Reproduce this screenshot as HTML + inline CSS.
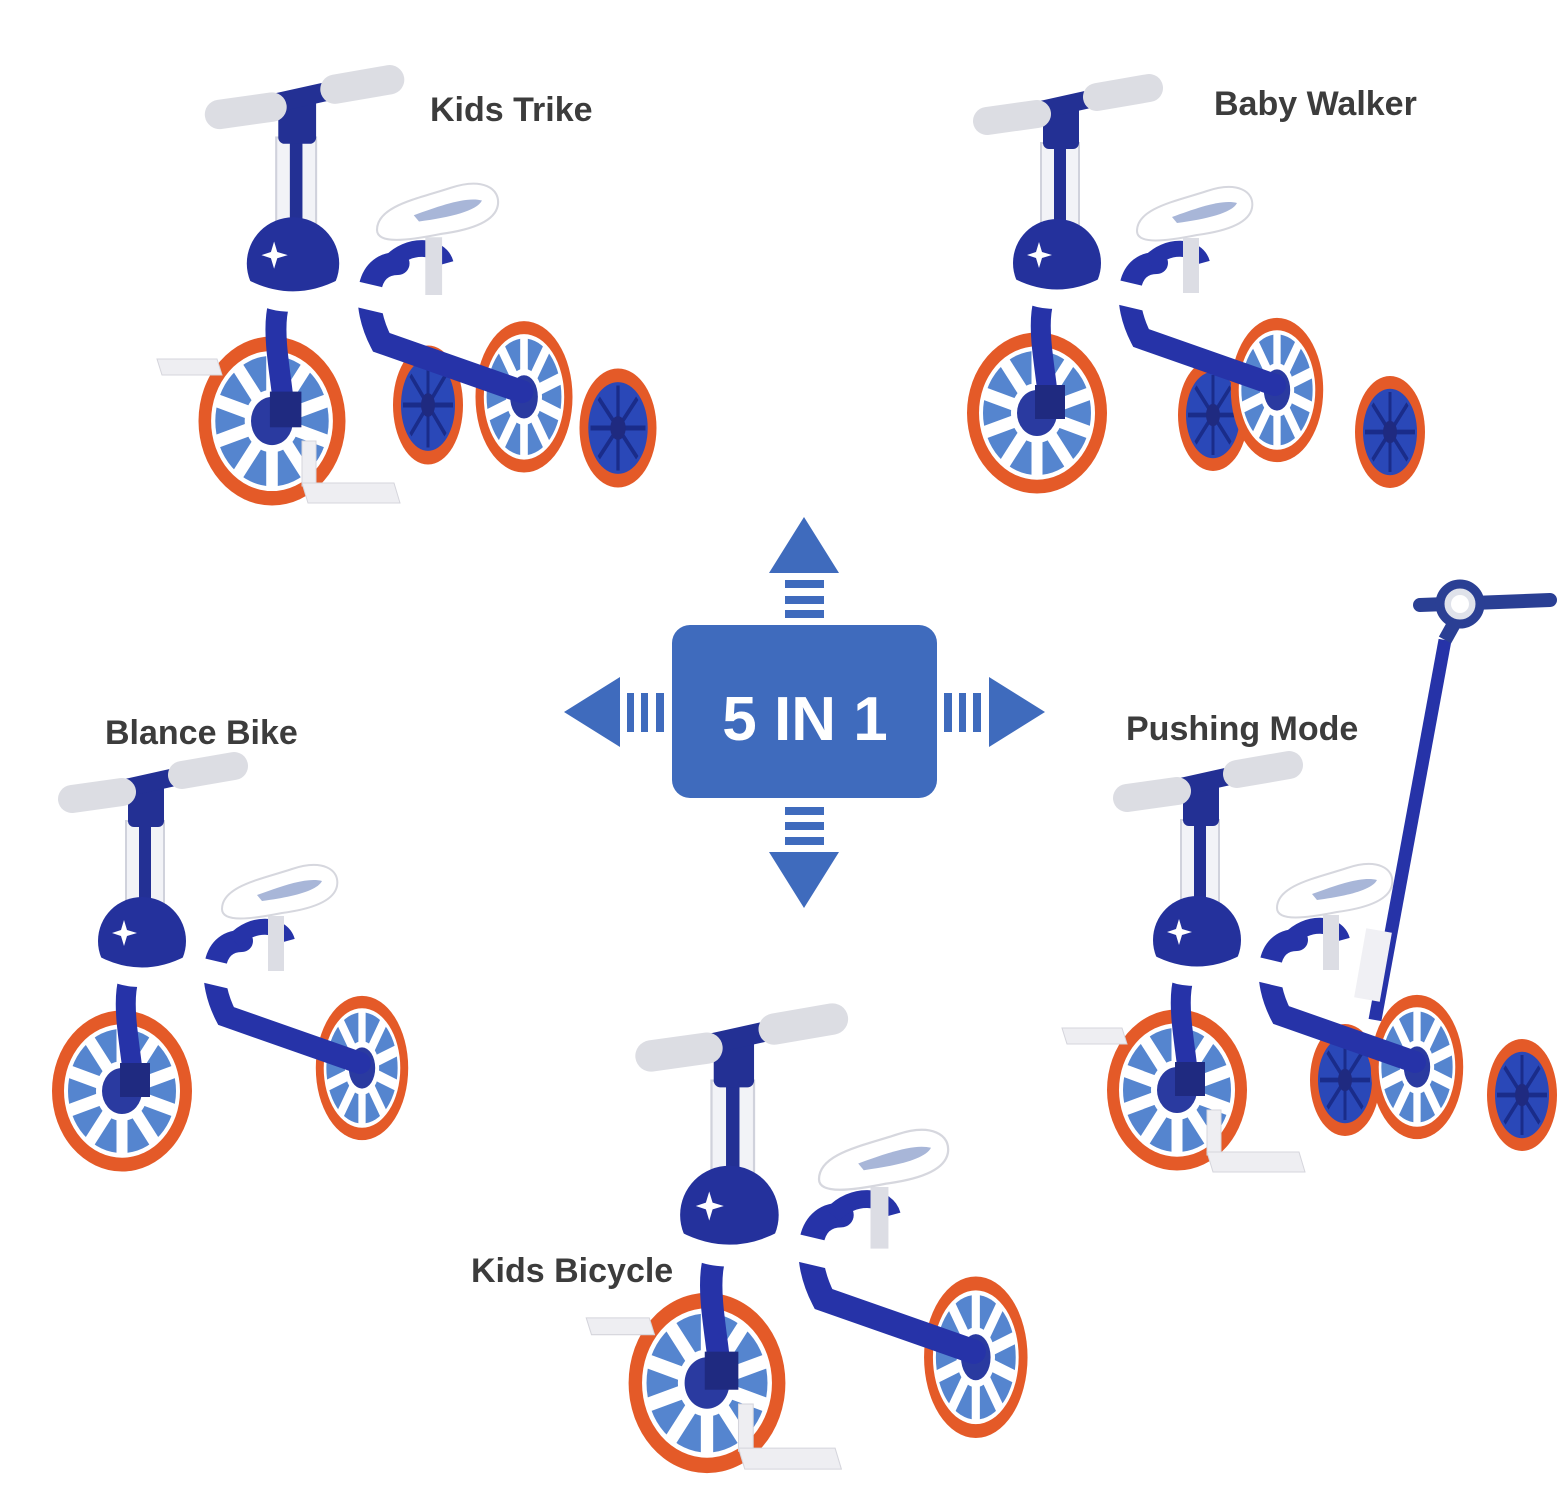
<!DOCTYPE html>
<html><head><meta charset="utf-8"><style>
html,body{margin:0;padding:0;background:#fff;}
svg{display:block;}
text{font-family:"Liberation Sans",sans-serif;font-weight:bold;fill:#3c3c3c;font-size:34px;}
</style></head><body>
<svg width="1566" height="1500" viewBox="0 0 1566 1500" xmlns="http://www.w3.org/2000/svg">
<defs>
  <g id="wh">
    <circle r="70" fill="#e45a28"/>
    <circle r="58" fill="#fff"/>
    <circle r="54" fill="#5585cf"/>
    <g stroke="#fff" stroke-width="11">
      <line x1="0" y1="0" x2="0" y2="-56"/><line x1="0" y1="0" x2="33" y2="-45"/>
      <line x1="0" y1="0" x2="53" y2="-17"/><line x1="0" y1="0" x2="53" y2="17"/>
      <line x1="0" y1="0" x2="33" y2="45"/><line x1="0" y1="0" x2="0" y2="56"/>
      <line x1="0" y1="0" x2="-33" y2="45"/><line x1="0" y1="0" x2="-53" y2="17"/>
      <line x1="0" y1="0" x2="-53" y2="-17"/><line x1="0" y1="0" x2="-33" y2="-45"/>
    </g>
    <circle r="26" fill="#fff"/>
    <circle r="20" fill="#2a3aa0"/>
  </g>
  <g id="sw">
    <circle r="70" fill="#e45a28"/>
    <circle r="54" fill="#2a48b8"/>
    <g stroke="#1a2c8a" stroke-width="6">
      <line x1="-50" y1="0" x2="50" y2="0"/><line x1="0" y1="-50" x2="0" y2="50"/>
      <line x1="-35" y1="-35" x2="35" y2="35"/><line x1="35" y1="-35" x2="-35" y2="35"/>
    </g>
    <circle r="14" fill="#1f2a80"/>
  </g>
  <g id="bike">
    <!-- rear wheel -->
    <use href="#wh" transform="translate(240,-23) scale(0.66,1.03)"/>
    <!-- frame -->
    <path d="M120 -150 C88 -150 86 -110 104 -75 L238 -28" stroke="#2633a8" stroke-width="22" fill="none" stroke-linecap="round"/>
    <path d="M112 -150 C130 -170 160 -168 165 -150" stroke="#2633a8" stroke-width="16" fill="none"/>
    <line x1="50" y1="-128" x2="118" y2="-112" stroke="#fff" stroke-width="24"/>
    <!-- seat post -->
    <rect x="146" y="-175" width="16" height="55" fill="#dcdde4"/>
    <!-- seat -->
    <path d="M100 -182 C100 -205 140 -212 170 -222 C200 -232 218 -222 215 -205 C212 -190 190 -182 160 -178 C130 -172 100 -168 100 -182 Z" fill="#fff" stroke="#d6d7de" stroke-width="2"/>
    <path d="M135 -196 C160 -205 185 -214 200 -210 C195 -200 170 -194 140 -190 Z" fill="#a8b6d8"/>
    <!-- front wheel -->
    <use href="#wh" transform="scale(1,1.15)"/>
    <!-- fork -->
    <path d="M30 -140 C-12 -120 8 -60 12 -5" stroke="#2633a8" stroke-width="20" fill="none"/>
    <rect x="-2" y="-28" width="30" height="34" fill="#1f2a80"/>
    <!-- stem -->
    <rect x="4" y="-270" width="38" height="110" fill="#f2f3f7" stroke="#d0d2dc" stroke-width="2"/>
    <rect x="17" y="-270" width="12" height="110" fill="#233094"/>
    <rect x="6" y="-310" width="36" height="46" rx="6" fill="#233094"/>
    <!-- ball -->
    <circle cx="20" cy="-150" r="44" fill="#24319c"/>
    <path d="M-24 -135 Q20 -112 64 -135 L62 -120 Q52 -104 20 -104 Q-12 -104 -22 -120 Z" fill="#fff"/>
    <path d="M-10 -158 l9 -3 3 -10 3 10 10 3 -10 3 -3 10 -3 -10z" fill="#fff"/>
    <!-- handlebar -->
    <line x1="-10" y1="-300" x2="62" y2="-316" stroke="#233094" stroke-width="18"/>
    <line x1="-50" y1="-292" x2="0" y2="-299" stroke="#dcdde3" stroke-width="28" stroke-linecap="round"/>
    <line x1="60" y1="-316" x2="112" y2="-325" stroke="#dcdde3" stroke-width="28" stroke-linecap="round"/>
  </g>
  <g id="pedals">
    <path d="M-115 -62 L-55 -62 L-50 -46 L-110 -46 Z" fill="#eeeef2" stroke="#d5d5dc"/>
    <rect x="30" y="20" width="14" height="45" fill="#eeeef2" stroke="#d5d5dc"/>
    <path d="M30 62 L122 62 L128 82 L36 82 Z" fill="#eeeef2" stroke="#d5d5dc"/>
  </g>
</defs>

<!-- Center 5 IN 1 -->
<g fill="#3f6bbd">
  <rect x="672" y="625" width="265" height="173" rx="18"/>
  <polygon points="804,517 839,573 769,573"/>
  <rect x="785" y="580" width="39" height="8"/><rect x="785" y="596" width="39" height="8"/><rect x="785" y="610" width="39" height="8"/>
  <rect x="785" y="807" width="39" height="8"/><rect x="785" y="822" width="39" height="8"/><rect x="785" y="837" width="39" height="8"/>
  <polygon points="769,852 839,852 804,908"/>
  <polygon points="564,712 620,677 620,747"/>
  <rect x="627" y="693" width="7" height="39"/><rect x="641" y="693" width="7" height="39"/><rect x="656" y="693" width="8" height="39"/>
  <rect x="944" y="693" width="8" height="39"/><rect x="959" y="693" width="7" height="39"/><rect x="973" y="693" width="8" height="39"/>
  <polygon points="989,677 1045,712 989,747"/>
</g>
<text x="805" y="740" text-anchor="middle" style="fill:#fff;font-size:62px;">5 IN 1</text>

<!-- Kids Trike -->
<use href="#sw" transform="translate(428,405) scale(0.5,0.85)"/>
<use href="#bike" transform="translate(272,421) scale(1.05)"/>
<use href="#sw" transform="translate(618,428) scale(0.55,0.85)"/>
<use href="#pedals" transform="translate(272,421)"/>

<!-- Baby Walker -->
<use href="#sw" transform="translate(1213,415) scale(0.5,0.8)"/>
<use href="#bike" transform="translate(1037,413) scale(1.0)"/>
<use href="#sw" transform="translate(1390,432) scale(0.5,0.8)"/>

<!-- Balance Bike -->
<use href="#bike" transform="translate(122,1091) scale(1.0)"/>

<!-- Pushing Mode -->
<line x1="1375" y1="1020" x2="1445" y2="640" stroke="#2633a8" stroke-width="13"/>
<rect x="1360" y="930" width="26" height="70" fill="#f0f0f4" transform="rotate(10 1373 965)"/>
<line x1="1420" y1="605" x2="1550" y2="600" stroke="#2a3f94" stroke-width="14" stroke-linecap="round"/>
<circle cx="1460" cy="604" r="20" fill="#dfe2ea" stroke="#2a3f94" stroke-width="9"/>
<circle cx="1460" cy="604" r="9" fill="#fff"/>
<line x1="1445" y1="640" x2="1455" y2="622" stroke="#2a3f94" stroke-width="14"/>
<use href="#sw" transform="translate(1345,1080) scale(0.5,0.8)"/>
<use href="#bike" transform="translate(1177,1090) scale(1.0)"/>
<use href="#sw" transform="translate(1522,1095) scale(0.5,0.8)"/>
<use href="#pedals" transform="translate(1177,1090)"/>

<!-- Kids Bicycle -->
<use href="#bike" transform="translate(707,1383) scale(1.12)"/>
<use href="#pedals" transform="translate(707,1383) scale(1.05)"/>

<!-- Labels -->
<text x="430" y="121">Kids Trike</text>
<text x="1214" y="115">Baby Walker</text>
<text x="105" y="744">Blance Bike</text>
<text x="1126" y="740">Pushing Mode</text>
<text x="471" y="1282">Kids Bicycle</text>
</svg>
</body></html>
